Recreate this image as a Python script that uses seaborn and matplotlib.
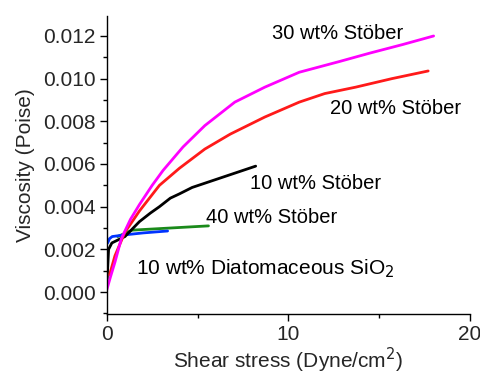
import numpy as np
import pandas as pd
import matplotlib
matplotlib.use("Agg")
import matplotlib.pyplot as plt
import seaborn as sns
from matplotlib.ticker import MultipleLocator

# Data
x30 = [0.0, 0.2, 0.45, 0.8, 1.3, 1.8, 2.5, 3.1, 4.2, 5.4, 7.05, 8.7, 10.6, 12.8, 14.5, 16.3, 18.0]
y30 = [0.0001, 0.0007, 0.0014, 0.0025, 0.0034, 0.0041, 0.0050, 0.0057, 0.0068, 0.0078, 0.0089, 0.0096, 0.0103, 0.0108, 0.0112, 0.0116, 0.0120]

x20 = [0.15, 0.45, 1.0, 1.8, 2.9, 4.0, 5.4, 6.8, 8.7, 10.6, 12.0, 13.7, 15.7, 17.7]
y20 = [0.0008, 0.0017, 0.0028, 0.0038, 0.0050, 0.0058, 0.0067, 0.0074, 0.0082, 0.0089, 0.0093, 0.0096, 0.0100, 0.01036]

x10 = [0.02, 0.1, 0.28, 1.0, 1.8, 2.4, 2.9, 3.5, 4.0, 4.7, 5.4, 6.8, 8.2]
y10 = [0.0006, 0.0020, 0.0023, 0.0026, 0.0033, 0.0037, 0.0040, 0.0044, 0.0046, 0.0049, 0.0051, 0.0055, 0.0059]

x40 = [0.6, 1.4, 3.5, 5.6]
y40 = [0.0026, 0.0029, 0.0030, 0.0031]

xdia = [0.05, 0.15, 0.3, 1.0, 2.0, 3.35]
ydia = [0.0023, 0.0025, 0.0026, 0.00268, 0.00277, 0.00286]

labels = ["30 wt% Stöber", "20 wt% Stöber", "10 wt% Stöber", "40 wt% Stöber", "10 wt% Diatomaceous SiO$_2$"]
colors = ["#ff00ff", "#ff1a1a", "#000000", "#1a8a1a", "#0033ff"]

series = [(x30, y30), (x20, y20), (x10, y10), (x40, y40), (xdia, ydia)]

sns.set_style("ticks")
plt.rcParams['font.family'] = ['Liberation Sans', 'DejaVu Sans']

fig = plt.figure(figsize=(4.81, 3.79), dpi=100)
ax = fig.add_axes([0.222, 0.1715, 0.755, 0.7865])

order = [3, 4, 2, 1, 0]
for i in order:
    xs, ys = series[i]
    df = pd.DataFrame({"x": xs, "y": ys})
    sns.lineplot(data=df, x="x", y="y", ax=ax, color=colors[i], linewidth=2, sort=False)

ax.set_xlim(0, 20)
ax.set_ylim(-0.00103, 0.01294)
ax.xaxis.set_major_locator(MultipleLocator(10))
ax.xaxis.set_minor_locator(MultipleLocator(5))
ax.yaxis.set_major_locator(MultipleLocator(0.002))
ax.yaxis.set_minor_locator(MultipleLocator(0.001))
ax.yaxis.set_major_formatter(matplotlib.ticker.FormatStrFormatter('%.3f'))
ax.tick_params(axis='both', which='major', labelsize=15, length=5, width=1, direction='out', color='black', pad=3)
ax.tick_params(axis='both', which='minor', length=3, width=1, direction='out', color='black')
for s in ['top', 'right']:
    ax.spines[s].set_visible(False)
for s in ['left', 'bottom']:
    ax.spines[s].set_color('black')
    ax.spines[s].set_linewidth(1)

ax.set_xlabel("Shear stress (Dyne/cm$^2$)", fontsize=15, labelpad=1)
ax.set_ylabel("Viscosity (Poise)", fontsize=15, labelpad=6)

ann_pos = [(12.7, 0.0121), (15.9, 0.0086), (11.5, 0.0051), (9.1, 0.0035), (8.7, 0.0011)]
for lab, (xp, yp) in zip(labels, ann_pos):
    ax.text(xp, yp, lab, fontsize=15 if 'Dia' in lab else 14.5, ha='center', va='center', color='black')

fig.savefig("out.png", dpi=100)
